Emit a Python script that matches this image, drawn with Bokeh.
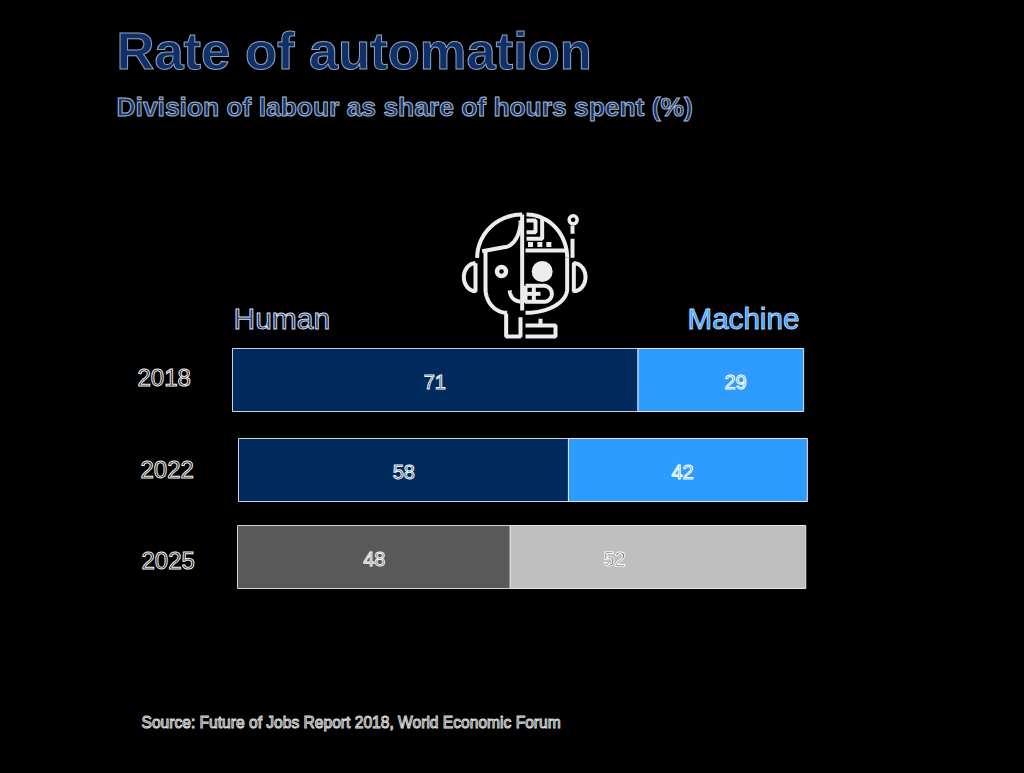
import numpy as np
from bokeh.plotting import figure
from bokeh.models import Range1d
from bokeh.core.properties import value
from bokeh.embed import file_html
from bokeh.resources import INLINE

# ---- chart data ----
years = ["2018", "2022", "2025"]
human = [71, 58, 48]
machine = [29, 42, 52]
human_colors = ["#002b5c", "#002b5c", "#595959"]
machine_colors = ["#2e9bff", "#2e9bff", "#bfbfbf"]

title = "Rate of automation"
subtitle = "Division of labour as share of hours spent (%)"
source = "Source: Future of Jobs Report 2018, World Economic Forum"

# ---- layout (image pixels) ----
FONT = value("Liberation Sans")
PX_PER_PCT = 5.7
ORIGIN = 232
row_y = [379.5, 469.5, 556.5]
row_left_px = [232, 238, 237]
row_stretch = [1.002, 0.998, 0.997]
bar_h = 63
human_label_y = [381, 471, 558]
machine_label_px = [735, 682, 614]
machine_label_fill = ["#2e9bff", "#2e9bff", "#1a1a1a"]
year_px = [137, 140, 141]
year_y = [377, 469, 560]

def X(px):
    return (np.asarray(px, dtype=float) - ORIGIN) / PX_PER_PCT

p = figure(width=1008, height=757, output_backend="svg", toolbar_location=None,
           x_range=Range1d(float(X(0)), float(X(1008))), y_range=Range1d(757, 0),
           background_fill_color="black", border_fill_color="black",
           min_border=0, outline_line_color=None)
p.axis.visible = False
p.grid.visible = False

# ---- bars ----
offset = X(row_left_px)
stretch = np.array(row_stretch)
h = np.array(human, dtype=float) * stretch
m = np.array(machine, dtype=float) * stretch
p.hbar(y=row_y, height=bar_h, left=offset, right=offset + h,
       fill_color=human_colors, line_color="#c9d3e2", line_width=1)
p.hbar(y=row_y, height=bar_h, left=offset + h, right=offset + h + m,
       fill_color=machine_colors, line_color="#dfe6ee", line_width=1)

# ---- text helper ----
def txt(x, y, s, size, fill, outline=None, bold=False, align="left"):
    r = p.text(x=[float(X(x))], y=[y], text=[s], text_font=FONT,
               text_font_size=f"{size}px", text_color=fill,
               text_align=align, text_baseline="middle",
               text_font_style="bold" if bold else "normal")
    if outline:
        r.glyph.text_outline_color = outline
    return r

txt(116, 50, title, 52.5, "#0f3068", "#8fa3c0", bold=True)
txt(116, 106, subtitle, 26.4, "#0f3068", "#a9b8cc", bold=True)
txt(233, 318, "Human", 30, "#0f3068", "#d5deea")
txt(687, 318, "Machine", 29.6, "#2e9bff", "#a9d4ff")
for i, yr in enumerate(years):
    txt(year_px[i], year_y[i], yr, 24, "#000000", "#f2f2f2")
    txt((row_left_px[i] + row_left_px[i] + human[i] * PX_PER_PCT) / 2, human_label_y[i],
        str(human[i]), 20, human_colors[i], "#f4f4f4", align="center")
    txt(machine_label_px[i], human_label_y[i], str(machine[i]), 20,
        machine_label_fill[i], "#ffffff", align="center")
txt(141, 722, source, 15.6, "#000000", "#d8d8d8")

# ---- robot icon (decoration; coordinates in a 3x crop of the icon box) ----
def Z(pts):
    a = np.array(pts, dtype=float)
    return X(440 + a[:, 0] / 3), 200 + a[:, 1] / 3

def arc(cx, cy, rx, ry, a0, a1, n=40):
    t = np.radians(np.linspace(a0, a1, n))
    return list(zip(cx + rx * np.cos(t), cy + ry * np.sin(t)))

paths = [
    arc(245, 172, 135, 130, -90, -180),
    [(245, 42), (245, 330)],
    [(125, 152), (190, 140)] + arc(190, 60, 50, 80, 90, 0),
    [(135, 150), (135, 265)] + arc(200, 265, 65, 72, 180, 90),
    [(197, 340), (197, 408), (240, 408), (240, 350)],
    [(105, 188)] + arc(105, 230, 35, 42, -90, -270) + [(105, 188)],
    arc(240, 270, 32, 33, 180, 90),
    arc(258, 172, 122, 130, -90, 0),
    [(380, 172), (380, 265)] + arc(255, 265, 125, 72, 0, 90),
    [(400, 190)] + arc(400, 230, 35, 42, -90, 90) + [(400, 190)],
    [(396, 75), (396, 100)],
    [(396, 115), (396, 172)],
    [(258, 60), (285, 60), (285, 95), (258, 95)],
    [(258, 115), (305, 115), (305, 55)],
    [(255, 150), (380, 150)],
    [(255, 256), (310, 256)] + arc(310, 280, 24, 24, -90, 90) + [(255, 304), (255, 256)],
    [(258, 280), (300, 280)],
    [(280, 258), (280, 302)],
    [(255, 375), (300, 375), (300, 355)],
    [(300, 375), (345, 375), (345, 408), (255, 408)],
]
xs, ys = [], []
for path in paths:
    a, b = Z(path)
    xs.append(a.tolist())
    ys.append(b.tolist())
p.multi_line(xs, ys, line_color="#ededed", line_width=4)

dots_x, dots_y = Z([(183, 213), (305, 213), (270, 132), (298, 132), (325, 132)])
p.scatter(x=dots_x[:1], y=dots_y[:1], size=9, marker="circle", fill_color=None,
          line_color="#ededed", line_width=4.5)
p.scatter(x=dots_x[1:2], y=dots_y[1:2], size=21, marker="circle", fill_color="#ededed",
          line_color=None)
p.scatter(x=dots_x[2:], y=dots_y[2:], size=5, marker="square", fill_color="#ededed",
          line_color=None)
ax, ay = Z([(398, 58)])
p.scatter(x=ax, y=ay, size=8, marker="circle", fill_color=None, line_color="#ededed", line_width=3.5)

html = file_html(p, INLINE)
html = html.replace("<head>", "<head><style>html,body{background:#000;overflow:hidden}</style>", 1)
open("out.html", "w").write(html)
